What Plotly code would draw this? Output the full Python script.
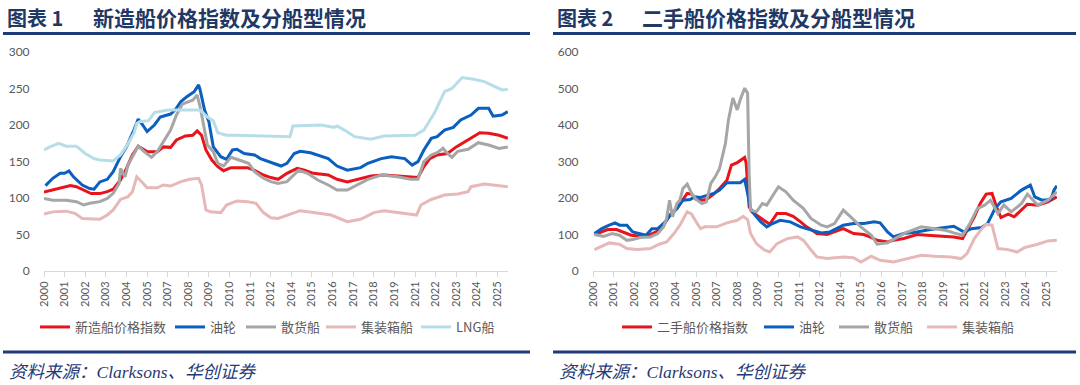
import pandas as pd
import plotly.graph_objects as go

# ---------------- data ----------------
tick_labels = ["2000", "2001", "2002", "2003", "2004", "2005", "2007", "2008", "2009", "2010",
               "2011", "2012", "2014", "2015", "2016", "2017", "2018", "2019", "2021", "2022",
               "2023", "2024", "2025"]

# Chart 1: newbuilding price index and by ship type
nb_index_dates = ["2000-01", "2000-07", "2001-02", "2001-07", "2001-11", "2002-05", "2002-09", "2003-03", "2003-08",
                  "2003-12", "2004-05", "2004-09", "2005-01", "2005-05", "2005-11", "2006-06", "2006-10", "2007-03",
                  "2007-07", "2008-01", "2008-06", "2008-09", "2008-12", "2009-03", "2009-07", "2009-11", "2010-03",
                  "2010-08", "2011-07", "2011-12", "2012-06", "2012-11", "2013-04", "2013-10", "2014-05", "2014-10",
                  "2015-04", "2016-02", "2016-08", "2017-03", "2017-10", "2018-07", "2019-04", "2020-01", "2020-10",
                  "2021-03", "2021-07", "2021-11", "2022-04", "2022-11", "2023-05", "2024-01", "2024-09", "2025-03",
                  "2025-10", "2026-04"]
nb_index = [108, 111, 115.5, 117, 115.5, 110, 106, 106, 108.7, 112, 124.6, 140.6, 159, 171, 163.5, 163.5, 170, 169.4,
            179.5, 185, 186, 192, 186, 165.8, 152, 143, 137.4, 141.6, 141.6, 138, 131.5, 128, 125.6, 133.8, 140.6, 138,
            133.8, 131.5, 125.6, 122, 125.6, 130, 131.5, 130, 128, 128, 143, 154, 159, 161, 170, 179.5, 189.5, 188.6,
            186, 181.7]

nb_tanker_dates = ["2000-02", "2000-07", "2000-12", "2001-03", "2001-06", "2001-09", "2002-03", "2002-08", "2002-11",
                   "2003-03", "2003-08", "2003-12", "2004-05", "2004-09", "2005-02", "2005-05", "2005-08", "2005-11",
                   "2006-04", "2006-08", "2007-03", "2007-06", "2007-10", "2008-02", "2008-07", "2008-10", "2008-11",
                   "2009-02", "2009-05", "2009-08", "2010-01", "2010-05", "2010-09", "2010-12", "2011-05", "2011-12",
                   "2012-04", "2012-11", "2013-06", "2013-10", "2014-03", "2014-07", "2015-02", "2016-02", "2016-08",
                   "2017-03", "2017-12", "2018-05", "2019-02", "2019-09", "2020-06", "2020-11", "2021-03", "2021-07",
                   "2021-12", "2022-04", "2022-09", "2023-03", "2023-08", "2024-03", "2024-08", "2025-03", "2025-06",
                   "2025-12", "2026-04"]
nb_tanker = [117, 127, 133.8, 133.8, 137, 129, 117.8, 113, 112, 122, 125.6, 136, 156.6, 170, 193, 208, 200, 191, 200,
             211, 215, 220.5, 232, 238.8, 245.7, 255, 248, 220.5, 204.6, 170, 156.6, 153, 165.8, 166.7, 161, 159, 154,
             149, 143.8, 147.5, 161, 164, 162, 154, 143.8, 138, 141.6, 147.5, 154, 156.6, 154, 145, 149.8, 165.8,
             181.7, 184, 193, 196.8, 207, 213.7, 222.8, 222.8, 212, 213.7, 218.3]

nb_bulk_dates = ["2000-01", "2000-07", "2001-04", "2001-11", "2002-04", "2002-08", "2003-03", "2003-08", "2003-12",
                 "2004-04", "2004-05", "2004-08", "2004-10", "2005-02", "2005-05", "2005-09", "2006-02", "2006-06",
                 "2006-10", "2007-03", "2007-07", "2007-11", "2008-02", "2008-06", "2008-09", "2008-11", "2009-02",
                 "2009-04", "2009-08", "2009-11", "2010-03", "2010-08", "2011-03", "2011-08", "2011-12", "2012-06",
                 "2012-11", "2013-04", "2013-10", "2014-06", "2014-12", "2015-07", "2016-02", "2016-08", "2017-03",
                 "2017-08", "2018-05", "2019-02", "2020-01", "2020-10", "2021-03", "2021-07", "2021-12", "2022-04",
                 "2022-08", "2022-11", "2023-02", "2023-06", "2024-01", "2024-08", "2025-03", "2025-10", "2026-04"]
nb_bulk = [99.5, 97, 97, 95, 90.4, 92.7, 95, 99.5, 106.4, 120, 140.6, 129, 145, 159, 171, 163.5, 155.7, 163.5, 177, 193,
           213.7, 228.8, 231, 234, 241, 225, 193, 172.6, 163.5, 147.5, 143.8, 155.7, 151, 147.5, 136, 127, 122.4, 120,
           122.4, 138, 133.8, 124.6, 117.8, 111, 111, 116.4, 125.6, 131.5, 129, 125.6, 125.6, 149.8, 159, 162, 168,
           161, 155.7, 164, 166.7, 175.8, 172.6, 168, 170]

nb_box_dates = ["2000-01", "2000-07", "2001-04", "2001-10", "2002-03", "2002-11", "2003-03", "2003-08", "2003-12",
                "2004-05", "2004-10", "2005-01", "2005-04", "2005-08", "2005-11", "2006-06", "2006-10", "2007-03",
                "2007-10", "2008-04", "2008-10", "2008-12", "2009-03", "2009-06", "2010-01", "2010-05", "2010-12",
                "2011-07", "2012-01", "2012-06", "2012-11", "2013-04", "2013-10", "2014-07", "2015-04", "2016-04",
                "2017-03", "2017-12", "2018-09", "2019-04", "2020-01", "2020-10", "2021-02", "2021-05", "2021-12",
                "2022-09", "2023-06", "2024-01", "2024-03", "2024-12", "2025-10", "2026-04"]
nb_box = [78, 81, 82, 79, 72, 70.8, 70.8, 76.7, 83.6, 98, 101.8, 108.7, 129, 121, 114, 114, 117.8, 116.4, 122.4, 125.6,
          127, 117.8, 83.6, 81, 80, 90.4, 96, 95, 92.7, 80, 73, 72, 76.7, 82.6, 80, 76.7, 67.6, 70.8, 80, 82.6, 80, 78,
          76.7, 90.4, 98, 104, 105.5, 108.7, 115.5, 119, 117, 115.5]

nb_lng_dates = ["2000-01", "2000-05", "2000-11", "2001-04", "2001-11", "2002-05", "2002-11", "2003-03", "2003-12",
                "2004-05", "2004-09", "2005-02", "2005-04", "2005-06", "2005-12", "2006-04", "2007-01", "2008-11",
                "2009-04", "2009-08", "2009-11", "2010-05", "2010-10", "2012-11", "2013-12", "2014-02", "2015-09",
                "2016-06", "2016-08", "2017-01", "2017-08", "2018-07", "2019-04", "2021-01", "2021-07", "2022-02",
                "2022-09", "2023-02", "2023-09", "2024-05", "2024-12", "2025-12", "2026-04"]
nb_lng = [165.8, 170, 175, 171, 171, 161, 154, 152, 150.7, 159, 171, 188.6, 202, 204.6, 206, 217, 220.5, 220.5, 211,
          205.5, 189.5, 186, 186, 184.5, 184, 198.6, 200, 196.8, 198.6, 193, 184, 180.4, 185, 186, 193, 216, 245.7, 250,
          265, 262.6, 259.4, 248, 248.8]

# Chart 2: second-hand price index and by ship type
sh_index_dates = ["2000-02", "2000-07", "2000-11", "2001-05", "2001-09", "2002-03", "2002-09", "2003-04", "2003-08",
                  "2004-01", "2004-05", "2004-10", "2005-01", "2005-05", "2005-08", "2005-11", "2006-03", "2006-06",
                  "2006-11", "2007-03", "2007-08", "2007-11", "2008-03", "2008-06", "2008-08", "2008-09", "2008-11",
                  "2009-01", "2009-04", "2009-09", "2010-01", "2010-06", "2010-12", "2011-05", "2011-10", "2012-02",
                  "2012-05", "2012-09", "2013-04", "2013-11", "2014-03", "2014-10", "2015-05", "2015-09", "2016-02",
                  "2016-09", "2017-01", "2017-08", "2018-05", "2018-12", "2019-11", "2020-06", "2020-12", "2021-03",
                  "2021-08", "2021-12", "2022-04", "2022-08", "2022-11", "2023-02", "2023-07", "2023-11", "2024-04",
                  "2024-08", "2025-03", "2025-10", "2026-04"]
sh_index = [100, 107, 113.6, 113.6, 107, 98, 95, 100, 107, 125.5, 153, 171, 189.6, 212.5, 210.7, 196, 194, 196, 210.7,
            226, 249, 290, 297, 304, 311, 295, 176, 162, 153, 139, 128, 157.6, 157.6, 150, 134.7, 121, 114, 102.6, 100,
            110, 116, 102.6, 100, 93.4, 84, 79.7, 84, 89, 100, 98, 96, 93.4, 89, 111.8, 148.4, 185, 210.7, 212.5, 176,
            146.6, 155.7, 148.4, 166.7, 183, 180.5, 189.6, 203]

sh_tanker_dates = ["2000-02", "2000-07", "2000-12", "2001-04", "2001-07", "2001-12", "2002-04", "2002-09", "2003-01",
                   "2003-05", "2003-09", "2004-02", "2004-05", "2004-10", "2005-02", "2005-07", "2005-10", "2006-02",
                   "2006-06", "2006-11", "2007-03", "2007-08", "2008-05", "2008-08", "2008-10", "2008-12", "2009-03",
                   "2009-07", "2009-11", "2010-03", "2010-08", "2011-03", "2011-10", "2012-05", "2012-12", "2013-06",
                   "2014-03", "2014-10", "2015-05", "2015-12", "2016-04", "2016-09", "2017-01", "2017-08", "2018-05",
                   "2019-02", "2019-12", "2020-06", "2021-01", "2021-06", "2022-01", "2022-05", "2022-10", "2023-02",
                   "2023-09", "2024-04", "2024-10", "2025-01", "2025-06", "2025-12", "2026-02", "2026-04"]
sh_tanker = [102.6, 116, 125.5, 132, 125.5, 125.5, 107, 102.6, 98, 116, 116, 134.7, 150, 171, 194, 196, 203, 201.5, 207,
             212.5, 221.7, 241.8, 241.8, 251, 212.5, 171, 153, 134.7, 121, 130, 139, 134.7, 121, 113.6, 104.4, 107,
             125.5, 130, 130, 134.7, 132, 107, 93.4, 102.6, 107, 113.6, 119, 122.7, 107, 116, 119, 130, 171, 189.6,
             198.8, 221.7, 235.4, 203, 194, 196, 221.7, 233.6]

sh_bulk_dates = ["2000-02", "2000-08", "2001-02", "2001-07", "2001-12", "2002-04", "2002-09", "2003-04", "2003-09",
                 "2004-01", "2004-03", "2004-05", "2004-07", "2004-10", "2004-12", "2005-02", "2005-05", "2005-08",
                 "2005-11", "2006-03", "2006-06", "2006-09", "2006-12", "2007-03", "2007-07", "2007-09", "2007-12",
                 "2008-03", "2008-05", "2008-08", "2008-10", "2008-11", "2008-12", "2009-04", "2009-08", "2009-11",
                 "2010-04", "2010-07", "2010-12", "2011-05", "2011-12", "2012-05", "2012-12", "2013-04", "2013-09",
                 "2014-03", "2014-08", "2015-03", "2015-10", "2016-02", "2016-09", "2017-04", "2017-09", "2018-08",
                 "2019-05", "2019-12", "2020-06", "2020-12", "2021-05", "2021-10", "2022-03", "2022-07", "2022-12",
                 "2023-04", "2023-09", "2024-04", "2024-08", "2025-03", "2025-10", "2026-04"]
sh_bulk = [100, 95, 102.6, 98, 84, 86, 91.6, 93.4, 102.6, 121, 143.8, 194, 148.4, 185, 194, 226, 238, 212.5, 196, 185,
           189.6, 240, 258, 281, 350, 414, 473.6, 441.5, 469, 501, 487, 267.5, 166.7, 162, 185, 180.5, 212.5, 230.8,
           217, 194, 171, 143.8, 125.5, 121, 130, 166.7, 148.4, 121, 98, 73.3, 77, 93.4, 104.4, 121, 116, 111.8, 104.4,
           98, 130, 171, 180.5, 194, 157.6, 180.5, 162, 185, 210.7, 180.5, 194, 217]

sh_box_dates = ["2000-02", "2000-07", "2000-12", "2001-07", "2001-12", "2002-07", "2003-04", "2003-10", "2004-03",
                "2004-08", "2004-12", "2005-05", "2005-08", "2005-11", "2006-02", "2006-05", "2007-01", "2007-08",
                "2008-03", "2008-07", "2008-10", "2008-12", "2009-04", "2009-09", "2010-01", "2010-06", "2011-01",
                "2011-08", "2011-12", "2012-05", "2012-09", "2013-04", "2014-03", "2014-10", "2015-03", "2015-10",
                "2016-04", "2017-01", "2017-11", "2018-08", "2019-05", "2020-04", "2020-11", "2021-03", "2021-08",
                "2022-01", "2022-04", "2022-08", "2022-12", "2023-07", "2024-01", "2024-06", "2025-03", "2025-10",
                "2026-04"]
sh_box = [58.6, 67.8, 77, 73.3, 61.4, 58.6, 61.4, 73.3, 79.7, 102.6, 125.5, 162, 155.7, 134.7, 116, 121, 121, 132, 139,
          150, 141, 102.6, 75, 58.6, 52, 75, 88.8, 93.4, 84, 58, 38.5, 34, 38.5, 36.6, 24.7, 40.3, 29.3, 24.7, 34, 43,
          40.3, 38.5, 34, 47.6, 88.8, 116, 128, 125.5, 61.4, 58.6, 52, 64, 73.3, 82.4, 84]

# ---------------- styling ----------------
W, H = 1080, 385
RED, BLUE, GRAY, PINK, LBLUE = "#E8141C", "#0A5FBF", "#A6A6A6", "#E6B8B7", "#B7DEE8"
NAVY = "#1F3A78"
TXT = "#595959"
FONT = "Lato, 'Noto Sans CJK SC', sans-serif"
CJK = "'Noto Sans CJK SC', sans-serif"


def px_x(p):
    return p / W


def px_y(p):
    return 1 - p / H


tickvals = pd.date_range("2000-01-01", periods=len(tick_labels), freq="14MS")
x_range = ["2000-01-01", "2026-04-05"]

fig = go.Figure()
legend_layout = {}
legend_count = [0]


def add(dates, vals, name, color, xa, ya, legend_px):
    legend_count[0] += 1
    key = "legend" if legend_count[0] == 1 else "legend%d" % legend_count[0]
    legend_layout[key] = dict(orientation="h", yanchor="middle", xanchor="left",
                              x=px_x(legend_px - 6), y=px_y(327),
                              font=dict(family=CJK, size=13, color=TXT), bgcolor="rgba(0,0,0,0)",
                              itemwidth=30)
    fig.add_trace(go.Scatter(
        x=pd.to_datetime(dates), y=vals, name=name, mode="lines",
        line=dict(color=color, width=3), xaxis=xa, yaxis=ya, legend=key,
        hoverinfo="skip"))


add(nb_index_dates, nb_index, "新造船价格指数", RED, "x", "y", 41)
add(nb_tanker_dates, nb_tanker, "油轮", BLUE, "x", "y", 176)
add(nb_bulk_dates, nb_bulk, "散货船", GRAY, "x", "y", 247)
add(nb_box_dates, nb_box, "集装箱船", PINK, "x", "y", 327)
add(nb_lng_dates, nb_lng, "LNG船", LBLUE, "x", "y", 422)

add(sh_index_dates, sh_index, "二手船价格指数", RED, "x2", "y2", 623)
add(sh_tanker_dates, sh_tanker, "油轮", BLUE, "x2", "y2", 765)
add(sh_bulk_dates, sh_bulk, "散货船", GRAY, "x2", "y2", 840)
add(sh_box_dates, sh_box, "集装箱船", PINK, "x2", "y2", 928)

xcommon = dict(type="date", range=x_range, tickvals=tickvals, ticktext=tick_labels, tickangle=-90,
               showgrid=False, zeroline=False, showline=True, linecolor="#D9D9D9", linewidth=1,
               ticks="outside", ticklen=5, tickcolor="#D9D9D9", tickwidth=1, automargin=False,
               tickfont=dict(family=FONT, size=11, color=TXT), fixedrange=True)
ycommon = dict(showgrid=False, zeroline=False, showline=False, ticks="outside", ticklen=11,
               tickcolor="rgba(0,0,0,0)", automargin=False,
               tickfont=dict(family=FONT, size=12, color=TXT), fixedrange=True)

y_dom = [px_y(271), px_y(52)]
fig.update_layout(
    width=W, height=H, margin=dict(l=0, r=0, t=0, b=0, autoexpand=False),
    paper_bgcolor="white", plot_bgcolor="white",
    xaxis=dict(domain=[px_x(44), px_x(508)], anchor="y", **xcommon),
    xaxis2=dict(domain=[px_x(593), px_x(1057)], anchor="y2", **xcommon),
    yaxis=dict(domain=y_dom, range=[0, 300], dtick=50, anchor="x", **ycommon),
    yaxis2=dict(domain=y_dom, range=[0, 600], dtick=100, anchor="x2", **ycommon),
    showlegend=True,
    **legend_layout,
)

titles = [(5, 91, "图表 1", "新造船价格指数及分船型情况"), (555, 640, "图表 2", "二手船价格指数及分船型情况")]
for x0, x1, lab, t in titles:
    fig.add_annotation(x=px_x(x0), y=px_y(17), xref="paper", yref="paper", xanchor="left", yanchor="middle",
                       text="<b>" + lab + "</b>", showarrow=False,
                       font=dict(family=CJK, size=20, color="#1F3864"))
    fig.add_annotation(x=px_x(x1), y=px_y(17), xref="paper", yref="paper", xanchor="left", yanchor="middle",
                       text="<b>" + t + "</b>", showarrow=False,
                       font=dict(family=CJK, size=21, color="#1F3864"))

for x0, x1 in [(3, 530), (553, 1076)]:
    for yy in (33.5, 352):
        fig.add_shape(type="line", xref="paper", yref="paper", x0=px_x(x0), x1=px_x(x1),
                      y0=px_y(yy), y1=px_y(yy), line=dict(color=NAVY, width=3))
    fig.add_annotation(x=px_x(x0 + 4), y=px_y(372), xref="paper", yref="paper", xanchor="left",
                       yanchor="middle", text="<i>资料来源：Clarksons、华创证券</i>", showarrow=False,
                       font=dict(family="'Liberation Serif', 'Noto Sans CJK SC', serif", size=17.5, color=NAVY))

fig.write_html("out.html", config={"displayModeBar": False},
               post_script="document.body.style.margin='0';document.body.style.padding='0';")
